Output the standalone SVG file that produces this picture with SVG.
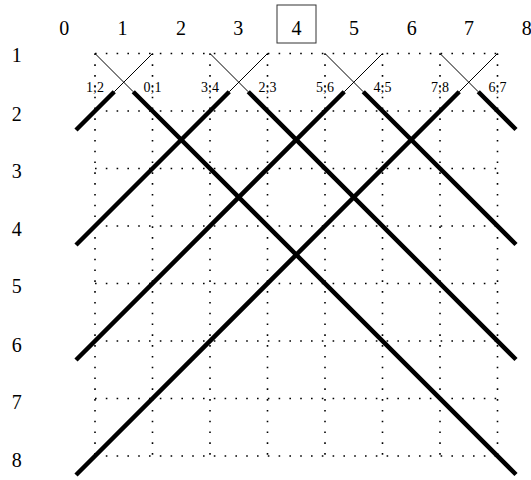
<svg xmlns="http://www.w3.org/2000/svg" width="531" height="480" viewBox="0 0 531 480">
<style>
.lab{font-family:"Liberation Serif","Times New Roman",serif;font-size:20px;fill:#000;text-anchor:middle}
.sm{font-family:"Liberation Serif","Times New Roman",serif;font-size:14px;fill:#000;text-anchor:middle}
.dot{stroke:#000;stroke-width:1.6;stroke-dasharray:1.6 9.2;fill:none}
.thin{stroke:#000;stroke-width:1;fill:none}
.thick{stroke:#000;stroke-width:4.5;fill:none;stroke-linecap:butt}
</style>
<rect width="531" height="480" fill="#fff"/>
<g id="grid">
<path class="dot" d="M95 53.5V456M152.5 53.5V456M210 53.5V456M267.5 53.5V456M325 53.5V456M382.5 53.5V456M440 53.5V456M497.5 53.5V456"/>
<path class="dot" d="M95 53.5H497.5M95 111H497.5M95 168.5H497.5M95 226H497.5M95 283.5H497.5M95 341H497.5M95 398.5H497.5M95 456H497.5"/>
</g>
<g id="col-labels">
<text class="lab" x="64.3" y="35">0</text>
<text class="lab" x="122.5" y="35">1</text>
<text class="lab" x="181" y="35">2</text>
<text class="lab" x="238.3" y="35">3</text>
<rect x="277" y="5" width="39" height="38" fill="none" stroke="#333" stroke-width="1"/>
<text class="lab" x="296.5" y="35">4</text>
<text class="lab" x="354" y="35">5</text>
<text class="lab" x="411.7" y="35">6</text>
<text class="lab" x="469" y="35">7</text>
<text class="lab" x="526.7" y="35">8</text>
</g>
<g id="row-labels">
<text class="lab" x="16.7" y="62">1</text>
<text class="lab" x="16.7" y="120.5">2</text>
<text class="lab" x="16.7" y="178">3</text>
<text class="lab" x="16.7" y="236">4</text>
<text class="lab" x="16.7" y="293.3">5</text>
<text class="lab" x="16.7" y="351.5">6</text>
<text class="lab" x="16.7" y="409.3">7</text>
<text class="lab" x="16.7" y="466.7">8</text>
</g>
<g id="connectors">
<path class="thin" d="M95 53.5L133.25 91.75M210 53.5L248.25 91.75M325 53.5L363.25 91.75M440 53.5L478.25 91.75"/>
<path class="thin" d="M114.25 91.75L152.5 53.5M229.25 91.75L267.5 53.5M344.25 91.75L382.5 53.5M459.25 91.75L497.5 53.5"/>
<path class="thick" d="M133.25 91.75L516 474.5M248.25 91.75L516 359.5M363.25 91.75L516 244.5M478.25 91.75L516 129.5"/>
<path class="thick" d="M76 130L114.25 91.75M76 245L229.25 91.75M76 360L344.25 91.75M76 475L459.25 91.75"/>
</g>
<g id="pair-labels">
<text class="sm" x="95" y="92">1;2</text>
<text class="sm" x="152.5" y="92">0;1</text>
<text class="sm" x="210" y="92">3;4</text>
<text class="sm" x="267.5" y="92">2;3</text>
<text class="sm" x="325" y="92">5;6</text>
<text class="sm" x="382.5" y="92">4;5</text>
<text class="sm" x="440" y="92">7;8</text>
<text class="sm" x="497.5" y="92">6;7</text>
</g>
</svg>
